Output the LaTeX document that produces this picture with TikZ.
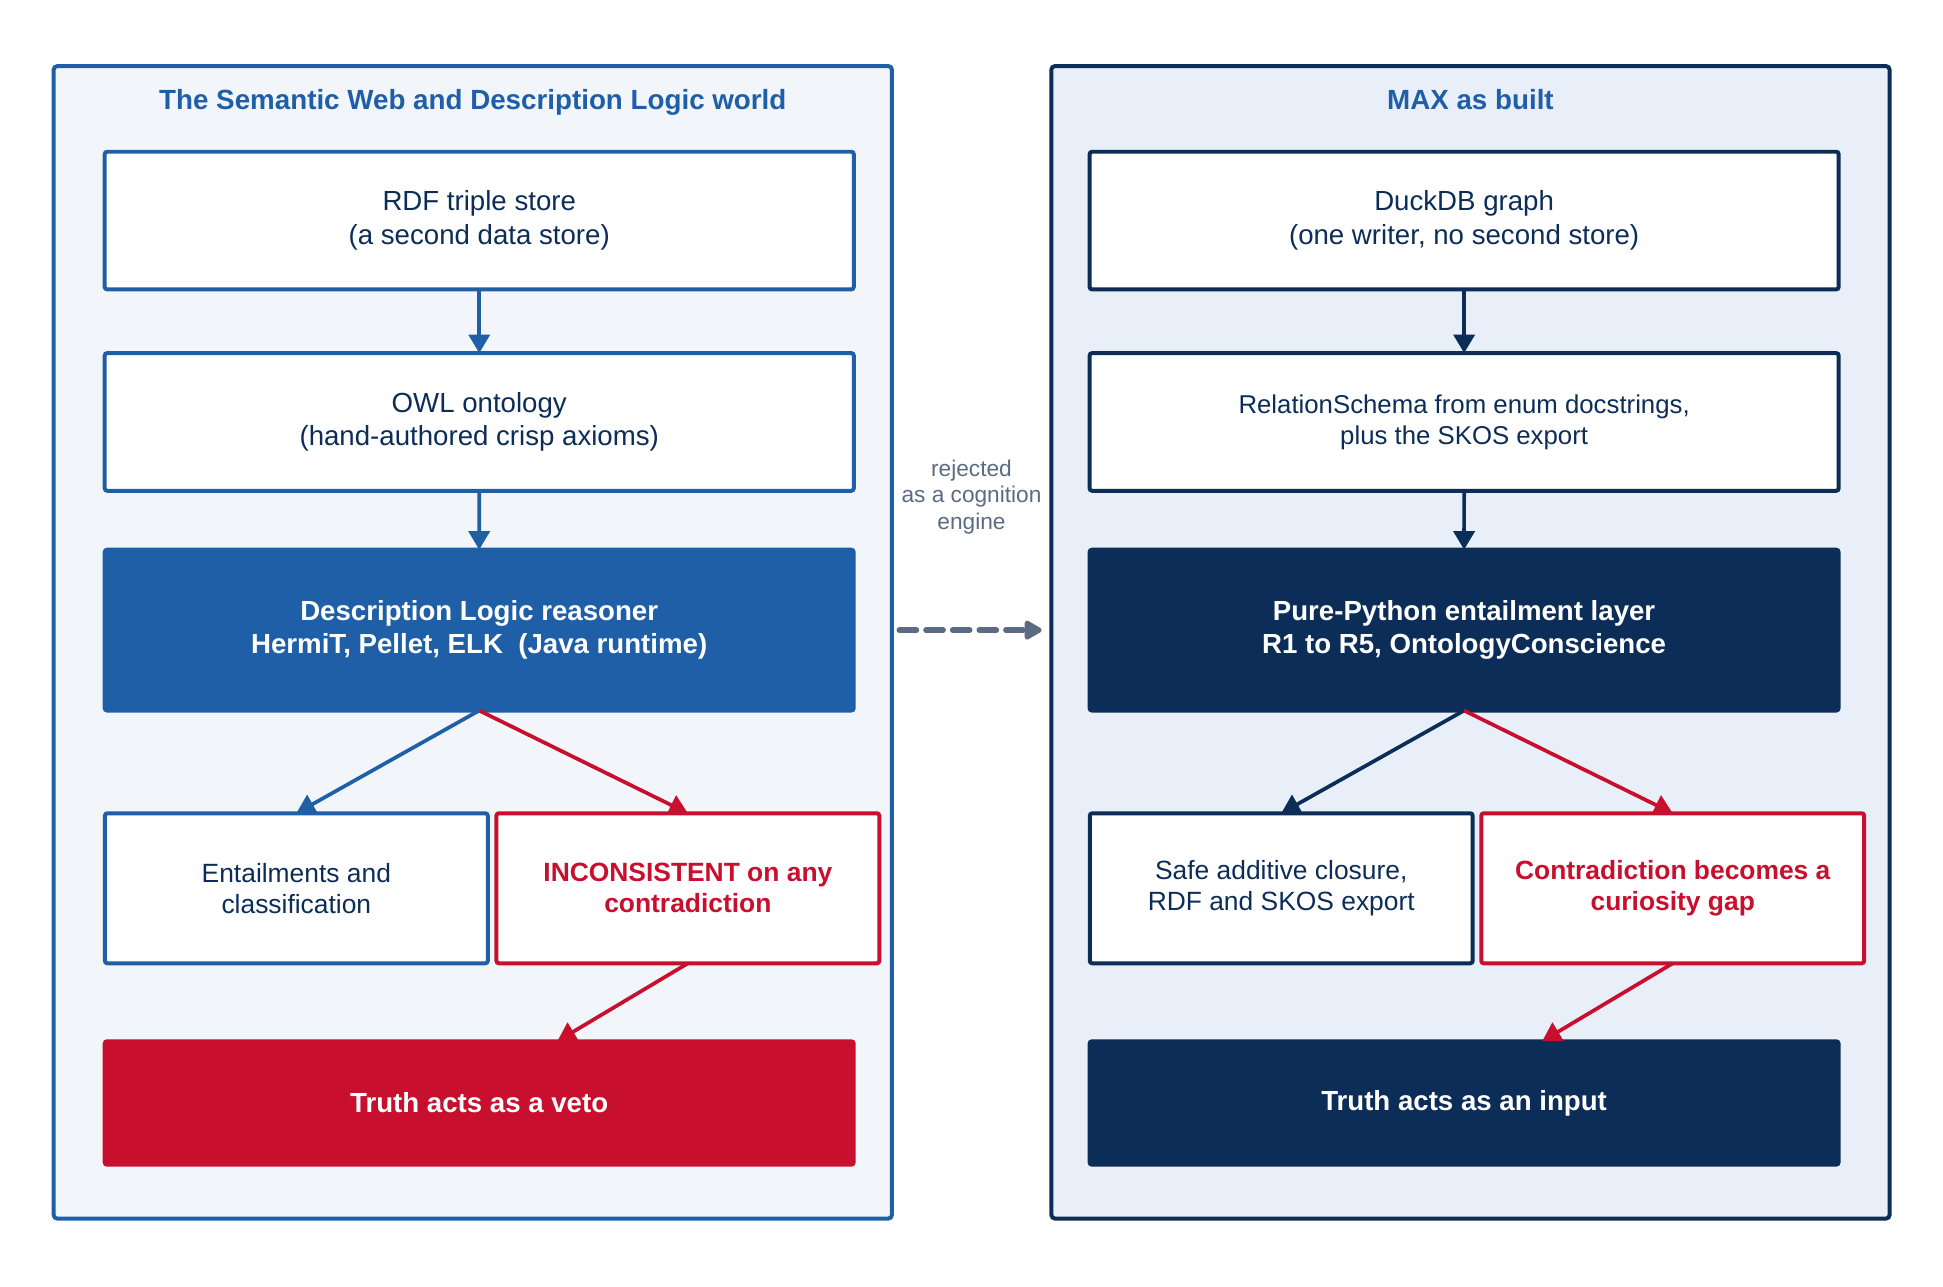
\documentclass[tikz,border=0pt]{standalone}
\usepackage{fontspec}
\setmainfont{Liberation Sans}
\usetikzlibrary{arrows.meta}

\definecolor{dlblue}{HTML}{1F5FA7}
\definecolor{navy}{HTML}{0C2D57}
\definecolor{alarm}{HTML}{C8102E}
\definecolor{leftbg}{HTML}{F2F6FB}
\definecolor{rightbg}{HTML}{E8EFF8}
\definecolor{slate}{HTML}{5B6B82}

\begin{document}
\begin{tikzpicture}[x=1pt, y=-1pt,
  >={Triangle[length=15pt, width=17pt]},
  panel/.style={draw, line width=3.2pt, rounded corners=3pt,
    minimum width=676.5pt, minimum height=930.1pt, inner sep=0pt, outer sep=0pt},
  paneltitle/.style={anchor=base, text=dlblue, font=\bfseries\fontsize{22.4}{27}\selectfont},
  card/.style={draw, line width=3.2pt, rounded corners=2pt, inner sep=0pt, outer sep=0pt, align=center},
  widecard/.style={card, minimum width=604.5pt},
  stage/.style={widecard, minimum height=111.1pt, fill=white, text=navy,
    font=\fontsize{22.3}{27}\selectfont},
  reasoner/.style={widecard, minimum height=129.8pt, text=white,
    font=\bfseries\fontsize{22.3}{27}\selectfont},
  verdict/.style={widecard, minimum height=99.6pt, text=white,
    font=\bfseries\fontsize{22.3}{27}\selectfont},
  halfcard/.style={card, minimum width=309pt, minimum height=121.1pt, fill=white,
    font=\fontsize{21.3}{25}\selectfont},
  alarmcard/.style={halfcard, draw=alarm, text=alarm,
    font=\bfseries\fontsize{21.3}{25}\selectfont},
  flowarrow/.style={->, line width=3pt},
  rejectarrow/.style={line width=4.6pt, slate, dash pattern=on 13.7pt off 7.8pt,
    line cap=round, -{Triangle[length=16pt, width=17pt, round]}},
]
\useasboundingbox (0,0) rectangle (1568,1038);

% ---- left column: the Semantic Web stack ----
\node[panel, draw=dlblue, fill=leftbg] (leftpanel) at (381.55,518.35) {};
\node[paneltitle] (lefttitle) at (381.55,88.2) {The Semantic Web and Description Logic world};

\node[stage, draw=dlblue] (rdf) at (386.75,178) {RDF triple store\\(a second data store)};
\node[stage, draw=dlblue] (owl) at (386.75,340.5) {OWL ontology\\(hand-authored crisp axioms)};
\node[reasoner, draw=dlblue, fill=dlblue] (dl) at (386.7,508.5)
  {Description Logic reasoner\\HermiT, Pellet, ELK\ \ (Java runtime)};
\node[halfcard, draw=dlblue, text=navy] (ent) at (239.15,716.85) {Entailments and\\classification};
\node[alarmcard] (inc) at (555.1,716.85) {INCONSISTENT on any\\contradiction};
\node[verdict, draw=alarm, fill=alarm] (veto) at (386.7,890.1) {Truth acts as a veto};

% ---- right column: what MAX does instead ----
\node[panel, draw=navy, fill=rightbg] (rightpanel) at (1186.65,518.35) {};
\node[paneltitle] (righttitle) at (1186.65,88.2) {MAX as built};

\node[stage, draw=navy] (duck) at (1181.55,178) {DuckDB graph\\(one writer, no second store)};
\node[stage, draw=navy, font=\fontsize{20.8}{25}\selectfont] (schema) at (1181.55,340.5)
  {RelationSchema from enum docstrings,\\plus the SKOS export};
\node[reasoner, draw=navy, fill=navy] (pp) at (1181.5,508.5)
  {Pure-Python entailment layer\\R1 to R5, OntologyConscience};
\node[halfcard, draw=navy, text=navy] (safe) at (1033.95,716.85) {Safe additive closure,\\RDF and SKOS export};
\node[alarmcard] (gap) at (1349.9,716.85) {Contradiction becomes a\\curiosity gap};
\node[verdict, draw=navy, fill=navy] (input) at (1181.5,890.1) {Truth acts as an input};

% ---- connectors ----
\draw[flowarrow, dlblue] (rdf.south) -- (owl.north);
\draw[flowarrow, dlblue] (owl.south) -- (dl.north);
\draw[flowarrow, dlblue] (dl.south) -- (ent.north);
\draw[flowarrow, alarm] (dl.south) -- (inc.north);
\draw[flowarrow, alarm] (inc.south) -- ([xshift=63pt]veto.north);

\draw[flowarrow, navy] (duck.south) -- (schema.north);
\draw[flowarrow, navy] (schema.south) -- (pp.north);
\draw[flowarrow, navy] (pp.south) -- (safe.north);
\draw[flowarrow, alarm] (pp.south) -- (gap.north);
\draw[flowarrow, alarm] (gap.south) -- ([xshift=63pt]input.north);

% the reasoner is turned down in favour of the native layer
\draw[rejectarrow, shorten <=36.85pt, shorten >=38.65pt] (dl.east) -- (pp.west);
\node[text=slate, align=center, font=\fontsize{18.3}{21.6}\selectfont] (why) at (784,401)
  {rejected\\as a cognition\\engine};
\end{tikzpicture}
\end{document}
